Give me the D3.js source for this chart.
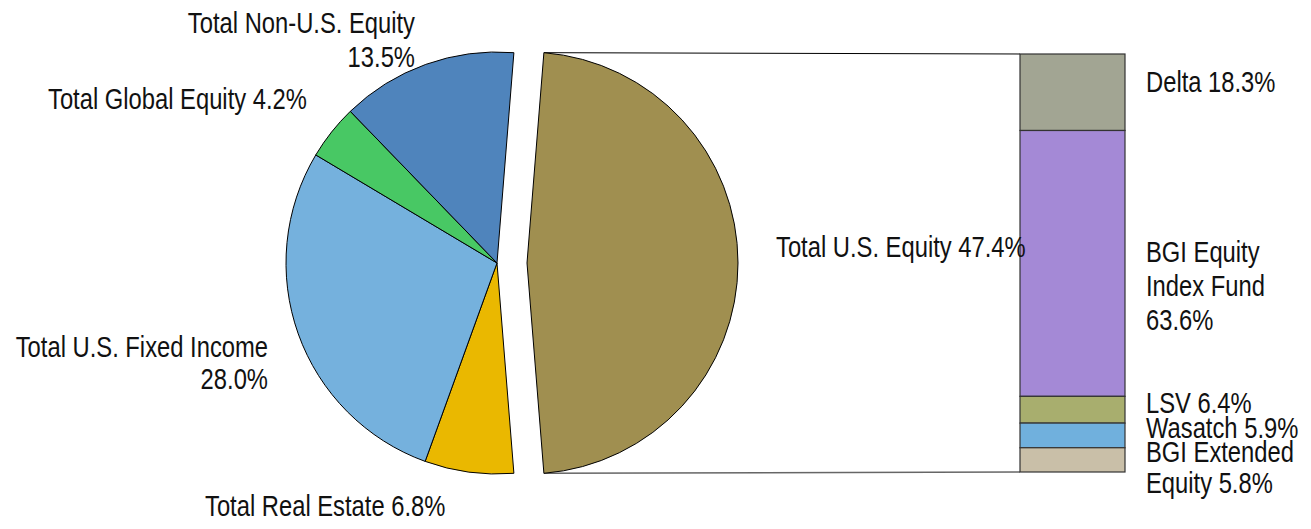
<!DOCTYPE html>
<html>
<head>
<meta charset="utf-8">
<script src="https://cdn.jsdelivr.net/npm/d3@7"></script>
<style>
  body { margin: 0; background: #fff; }
  svg text { font-family: "Liberation Sans", Arial, sans-serif; font-size: 29px; fill: #111; }
</style>
</head>
<body>
<div id="chart"></div>
<script>
// pie data (clockwise, starting with the exploded slice)
const pieNames = ["Total U.S. Equity", "Total Real Estate", "Total U.S. Fixed Income", "Total Global Equity", "Total Non-U.S. Equity"];
const pieValues = [47.4, 6.8, 28.0, 4.2, 13.5];
const pieColors = ["#a08f50", "#eab800", "#75b1dd", "#48c864", "#4f84bc"];

// breakdown of U.S. equity (top to bottom)
const barNames = ["Delta", "BGI Equity Index Fund", "LSV", "Wasatch", "BGI Extended Equity"];
const barValues = [18.3, 63.6, 6.4, 5.9, 5.8];
const barColors = ["#a2a593", "#a489d6", "#a8ae6e", "#70b0dd", "#c9bfa8"];

const width = 1311, height = 529;
const cx = 497, cy = 263, r = 211;
const explode = 30;
const narrow = 0.82; // arial narrow look

const svg = d3.select("#chart").append("svg")
    .attr("width", width)
    .attr("height", height);

const total = d3.sum(pieValues);
const half = (pieValues[0] / total) * Math.PI;
const pie = d3.pie().sort(null)
    .startAngle(Math.PI / 2 - half)
    .endAngle(Math.PI / 2 - half + 2 * Math.PI);
const arcs = pie(pieValues);
const arc = d3.arc().innerRadius(0).outerRadius(r);

const bx = 1020, bw = 105, by0 = 54, by1 = 472;

// connector lines from the exploded slice to the bar
const a0 = arcs[0];
const sx = cx + explode;
const p0 = [sx + r * Math.sin(a0.startAngle), cy - r * Math.cos(a0.startAngle)];
const p1 = [sx + r * Math.sin(a0.endAngle), cy - r * Math.cos(a0.endAngle)];
svg.append("line").attr("x1", p0[0]).attr("y1", p0[1]).attr("x2", bx).attr("y2", by0)
    .attr("stroke", "#000").attr("stroke-width", 1);
svg.append("line").attr("x1", p1[0]).attr("y1", p1[1]).attr("x2", bx).attr("y2", by1)
    .attr("stroke", "#666").attr("stroke-width", 1.5);

svg.append("g").selectAll("path")
    .data(arcs)
    .enter()
    .append("path")
    .attr("transform", (d, i) => i === 0 ? `translate(${cx + explode},${cy})` : `translate(${cx},${cy})`)
    .attr("d", arc)
    .attr("fill", (d, i) => pieColors[i])
    .attr("stroke", "#000")
    .attr("stroke-width", 1);

// stacked bar
const y = d3.scaleLinear().domain([0, d3.sum(barValues)]).range([by0, by1]);
const cum = d3.cumsum(barValues);
svg.append("g").selectAll("rect")
    .data(barValues)
    .enter()
    .append("rect")
    .attr("x", bx)
    .attr("y", (d, i) => y(cum[i] - d))
    .attr("width", bw)
    .attr("height", d => y(d) - y(0))
    .attr("fill", (d, i) => barColors[i])
    .attr("stroke", "#333")
    .attr("stroke-width", 1.2);

// labels
function label(lines, x, y0, anchor, dy) {
    const g = svg.append("g").attr("transform", `translate(${x},${y0}) scale(${narrow},1)`);
    const t = g.append("text").attr("text-anchor", anchor);
    lines.forEach((s, i) => {
        t.append("tspan").attr("x", 0).attr("y", i * dy).text(s);
    });
}
const pct = v => v.toFixed(1) + "%";

label([pieNames[4], pct(pieValues[4])], 415, 33, "end", 34);
label([pieNames[3] + " " + pct(pieValues[3])], 48, 109, "start", 0);
label([pieNames[2], pct(pieValues[2])], 268, 357, "end", 32);
label([pieNames[1] + " " + pct(pieValues[1])], 205, 516, "start", 0);
label([pieNames[0] + " " + pct(pieValues[0])], 776, 257, "start", 0);

const lx = 1146;
label([barNames[0] + " " + pct(barValues[0])], lx, 92, "start", 0);
label(["BGI Equity", "Index Fund", pct(barValues[1])], lx, 262, "start", 34);
label([barNames[2] + " " + pct(barValues[2])], lx, 413, "start", 0);
label([barNames[3] + " " + pct(barValues[3])], lx, 438, "start", 0);
label(["BGI Extended", "Equity " + pct(barValues[4])], lx, 462, "start", 31);
</script>
</body>
</html>
